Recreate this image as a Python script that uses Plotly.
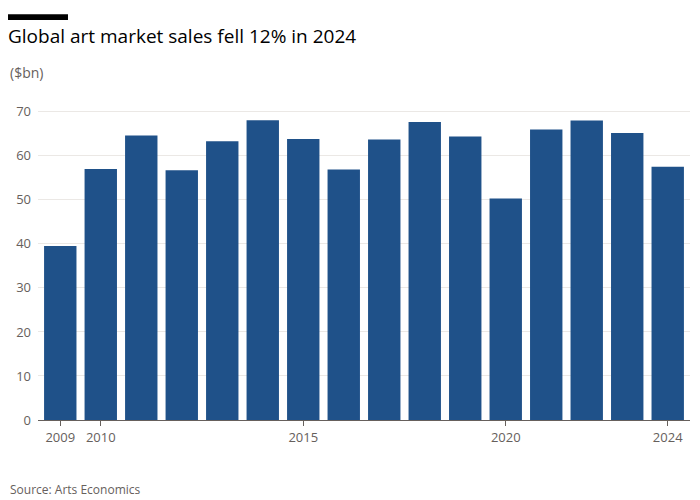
import plotly.graph_objects as go

years = list(range(2009, 2025))
sales = [39.5, 57.0, 64.6, 56.7, 63.3, 68.1, 63.8, 56.9, 63.7, 67.7, 64.4, 50.3, 66.0, 68.0, 65.2, 57.5]
tick_years = [2009, 2010, 2015, 2020, 2024]

fig = go.Figure()
fig.add_trace(go.Bar(x=years, y=sales, marker_color="#1f5189", marker_line_width=0))

fig.update_layout(
    width=700, height=500,
    paper_bgcolor="white", plot_bgcolor="white",
    font=dict(family="Open Sans", color="#33302e", size=13),
    margin=dict(l=30, r=18, t=95, b=88),
    bargap=0.2,
    showlegend=False,
    title=dict(text="Global art market sales fell 12% in 2024", x=0.0, xref="container",
               y=0.944, yref="container", yanchor="middle", xanchor="left",
               font=dict(size=19, color="#000000")),
    xaxis=dict(tickmode="array", tickvals=tick_years, ticktext=[str(y) for y in tick_years],
               showgrid=False, ticks="outside", ticklen=5, tickcolor="#66605c",
               range=[2008.45, 2024.55], showline=True, linecolor="#66605c",
               tickfont=dict(color="#66605c", size=13), automargin=False),
    yaxis=dict(range=[0, 72], tickvals=list(range(0, 71, 10)), gridcolor="#ebe8e5",
               zeroline=False, tickfont=dict(color="#66605c", size=13), ticklabelstandoff=6,
               automargin=False),
)
fig.add_annotation(text="($bn)", x=-0.046, y=1.095, xref="paper", yref="paper",
                   xanchor="left", yanchor="middle", showarrow=False,
                   font=dict(size=14, color="#66605c"))
fig.add_annotation(text="Source: Arts Economics", x=-0.046, y=-0.218, xref="paper", yref="paper",
                   xanchor="left", yanchor="middle", showarrow=False,
                   font=dict(size=12, color="#66605c"))
fig.add_shape(type="rect", xref="paper", yref="paper", x0=-0.046, x1=0.046, y0=1.262, y1=1.28,
              fillcolor="black", line_width=0)

fig.write_html("out.html")
